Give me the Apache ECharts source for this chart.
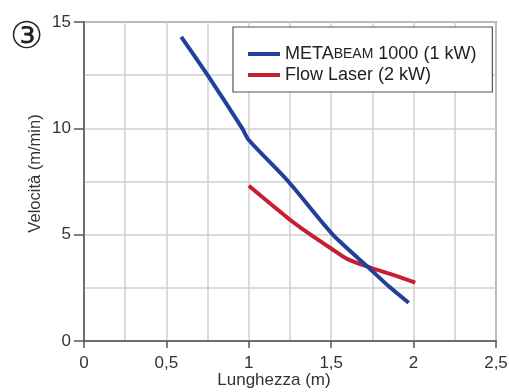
<!DOCTYPE html>
<html>
<head>
<meta charset="utf-8">
<script src="https://cdn.jsdelivr.net/npm/echarts@6/dist/echarts.min.js"></script>
<style>
  html, body { margin: 0; padding: 0; background: #fff; }
  #chart { width: 509px; height: 392px; }
</style>
</head>
<body>
<div id="chart"></div>
<script>
const metabeamX = [0.59, 0.75, 0.96, 1.0, 1.24, 1.51, 1.72, 1.86, 1.97];
const metabeamY = [14.3, 12.5, 10.0, 9.45, 7.5, 5.0, 3.5, 2.5, 1.8];
const flowX = [1.0, 1.25, 1.32, 1.5, 1.6, 1.75, 1.88, 2.01];
const flowY = [7.3, 5.7, 5.3, 4.35, 3.85, 3.42, 3.1, 2.75];
const xTicks = [0, 0.5, 1, 1.5, 2, 2.5];
const yTicks = [0, 5, 10, 15];

const font = "'Liberation Sans', Arial, sans-serif";
const axisColor = "#555";
const textColor = "#333";

const chart = echarts.init(document.getElementById("chart"));

const pairs = (xs, ys) => xs.map((x, i) => [x, ys[i]]);

chart.setOption({
  animation: false,
  grid: {
    left: 84,
    right: 13,
    top: 22,
    bottom: 51,
    outerBoundsMode: "none",
    show: true,
    borderColor: axisColor,
    borderWidth: 1.5,
  },
  legend: {
    orient: "vertical",
    left: 233,
    top: 27,
    padding: [18, 16, 8, 15],
    itemGap: 3,
    itemWidth: 32,
    itemHeight: 4,
    backgroundColor: "#fff",
    borderColor: axisColor,
    borderWidth: 1.2,
    icon: "rect",
    textStyle: {
      fontFamily: font,
      fontSize: 18,
      color: "#222",
      rich: {
        n: { fontFamily: font, fontSize: 18, color: "#222", height: 19 },
        sc: { fontFamily: font, fontSize: 14, color: "#222", height: 19 },
      },
    },
    formatter: (name) =>
      name.startsWith("METABEAM") ? "{n|META}{sc|BEAM}{n| 1000 (1 kW)}" : "{n|" + name + "}",
    data: ["METABEAM 1000 (1 kW)", "Flow Laser (2 kW)"],
  },
  xAxis: {
    type: "value",
    min: 0,
    max: 2.5,
    interval: 0.5,
    name: "Lunghezza (m)",
    nameLocation: "middle",
    nameGap: 31,
    nameMoveOverlap: false,
    nameTextStyle: { fontFamily: font, fontSize: 17, color: textColor, padding: [0, 32, 0, 0] },
    axisLine: { lineStyle: { color: axisColor, width: 1.5 } },
    axisTick: { show: true, length: 7, lineStyle: { color: axisColor, width: 1.5 } },
    axisLabel: {
      fontFamily: font,
      fontSize: 17,
      color: textColor,
      margin: 14,
      formatter: (v) => (xTicks.includes(v) ? String(v).replace(".", ",") : ""),
    },
    splitLine: { show: true, lineStyle: { color: "#cfcfcf", width: 1.5 } },
    minorTick: { show: false, splitNumber: 2 },
    minorSplitLine: { show: true, lineStyle: { color: "#cfcfcf", width: 1.5 } },
  },
  yAxis: {
    type: "value",
    min: 0,
    max: 15,
    interval: 5,
    name: "Velocità (m/min)",
    nameLocation: "middle",
    nameGap: 40,
    nameMoveOverlap: false,
    nameRotate: 90,
    nameTextStyle: { fontFamily: font, fontSize: 16.5, color: textColor, padding: [0, 0, 0, 16] },
    axisLine: { show: true, lineStyle: { color: axisColor, width: 1.5 } },
    axisTick: { show: true, length: 10, lineStyle: { color: axisColor, width: 1.5 } },
    axisLabel: {
      fontFamily: font,
      fontSize: 17,
      color: textColor,
      margin: 13,
      formatter: (v) => (yTicks.includes(v) ? String(v) : ""),
    },
    splitLine: { show: true, lineStyle: { color: "#cfcfcf", width: 1.5 } },
    minorTick: { show: false, splitNumber: 2 },
    minorSplitLine: { show: true, lineStyle: { color: "#cfcfcf", width: 1.5 } },
  },
  graphic: [
    {
      type: "text",
      left: 10,
      top: 20,
      style: { text: "③", fontFamily: "'DejaVu Sans', 'Noto Sans CJK SC'", fontSize: 37, fill: "#222" },
    },
  ],
  series: [
    {
      name: "METABEAM 1000 (1 kW)",
      type: "line",
      smooth: 0.25,
      showSymbol: false,
      color: "#22409a",
      lineStyle: { width: 4, color: "#22409a" },
      data: pairs(metabeamX, metabeamY),
      z: 3,
    },
    {
      name: "Flow Laser (2 kW)",
      type: "line",
      smooth: 0.3,
      showSymbol: false,
      color: "#c61e33",
      lineStyle: { width: 4, color: "#c61e33" },
      data: pairs(flowX, flowY),
      z: 2,
    },
  ],
});
</script>
</body>
</html>
